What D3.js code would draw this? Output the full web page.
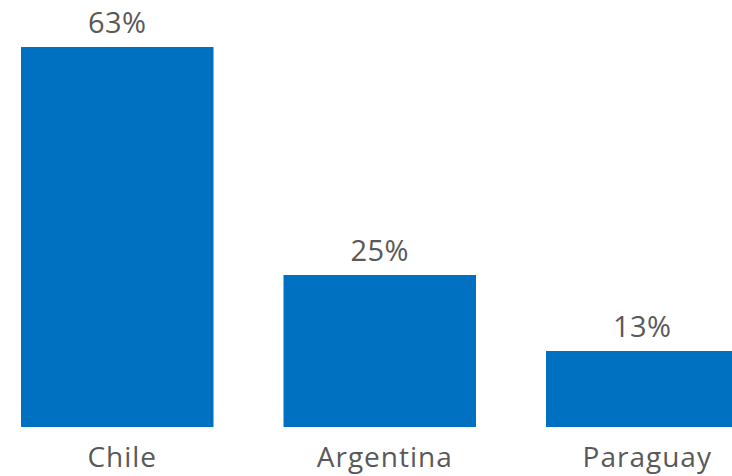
<!DOCTYPE html>
<html><head><meta charset="utf-8">
<script src="https://cdn.jsdelivr.net/npm/d3@7"></script>
<style>html,body{margin:0;padding:0;background:#fff;overflow:hidden}</style>
</head><body>
<svg id="chart" width="732" height="476"></svg>
<script>
const categories = ["Chile", "Argentina", "Paraguay"];
const shares = [62.5, 25, 12.5];

const svg = d3.select("#chart");
const x = d3.scaleBand().domain(categories).range([21, 738.5]).paddingInner(0.2667).paddingOuter(0);
const y = d3.scaleLinear().domain([0, 62.5]).range([427, 47]);
const font = "'Open Sans', sans-serif";
const data = categories.map((c, i) => ({c, v: shares[i]}));

svg.selectAll("rect.bar").data(data).join("rect")
  .attr("class", "bar")
  .attr("x", d => x(d.c)).attr("width", x.bandwidth())
  .attr("y", d => y(d.v)).attr("height", d => y(0) - y(d.v))
  .attr("fill", "#0070C0");

svg.selectAll("text.val").data(data).join("text")
  .attr("class", "val")
  .attr("x", d => x(d.c) + x.bandwidth() / 2)
  .attr("y", d => y(d.v) - 14)
  .attr("text-anchor", "middle")
  .attr("font-family", font).attr("font-size", 29).attr("letter-spacing", 0.5).attr("fill", "#595959")
  .text(d => Math.round(d.v) + "%");

svg.selectAll("text.cat").data(data).join("text")
  .attr("class", "cat")
  .attr("x", d => x(d.c) + x.bandwidth() / 2 + 5)
  .attr("y", y(0) + 40)
  .attr("text-anchor", "middle")
  .attr("font-family", font).attr("font-size", 28).attr("letter-spacing", 1).attr("fill", "#595959")
  .text(d => d.c);
</script>
</body></html>
